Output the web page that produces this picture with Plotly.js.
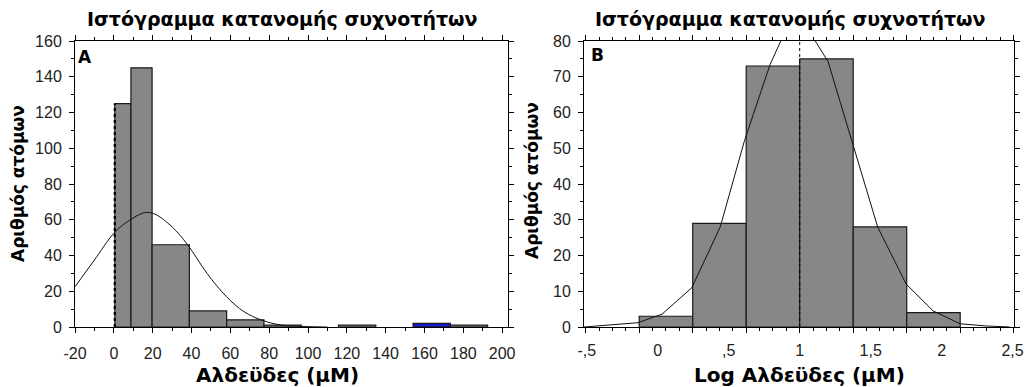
<!DOCTYPE html>
<html><head><meta charset="utf-8">
<script src="https://cdn.plot.ly/plotly-3.0.1.min.js"></script>
<style>html,body{margin:0;padding:0;background:#fff}#chart{width:1029px;height:387px}</style>
</head><body><div id="chart"></div>
<script>
// ---------- Panel A data ----------
const aBinLeft  = [0.5, 8.8, 19.7, 38.9, 58.1, 77.3, 115.7, 154.1, 173.3];
const aBinRight = [8.8, 19.7, 38.9, 58.1, 77.3, 96.5, 134.9, 173.3, 192.5];
const aCounts   = [125, 145, 46, 9, 4, 1, 1, 2, 1];
const aCurveX   = [-20, -10, 0, 7, 16, 21, 30, 38, 48, 58, 67, 76, 86, 98, 110];
const aCurveY   = [22.5, 37.5, 52.4, 58.9, 64, 63.2, 56, 46, 30, 17, 8.6, 3.9, 1.1, 0.3, 0];
const aRefX     = [0.5, 0.5];
const aRefY     = [0, 125];
const aTickVals = [-20, 0, 20, 40, 60, 80, 100, 120, 140, 160, 180, 200];
const aTickText = ['-20', '0', '20', '40', '60', '80', '100', '120', '140', '160', '180', '200'];

// ---------- Panel B data ----------
const bBinLeft  = [-0.131, 0.246, 0.623, 1.0, 1.377, 1.754];
const bBinRight = [0.246, 0.623, 1.0, 1.377, 1.754, 2.131];
const bCounts   = [3, 29, 73, 75, 28, 4];
const bCurveX   = [-0.52, -0.34, -0.14, 0.03, 0.24, 0.44, 0.61, 0.79, 0.87, 0.99, 1.11, 1.2, 1.38, 1.55, 1.75, 1.94, 2.13, 2.31, 2.48];
const bCurveY   = [0, 0.5, 1.2, 3.6, 11, 28, 52, 73.3, 80.3, 85.5, 80, 74.2, 50.3, 27.9, 12, 4.5, 0.9, 0.3, 0];
const bRefX     = [1, 1];
const bRefY     = [0, 80];
const bTickVals = [-0.5, 0, 0.5, 1, 1.5, 2, 2.5];
const bTickText = ['-,5', '0', ',5', '1', '1,5', '2', '2,5'];

// ---------- Texts ----------
const chartTitle = 'Ιστόγραμμα κατανομής συχνοτήτων';
const yTitle = 'Αριθμός ατόμων';
const xTitleA = 'Αλδεϋδες (μΜ)';
const xTitleB = 'Log Αλδεϋδες (μΜ)';

const mid = (l, r) => l.map((v, i) => (v + r[i]) / 2);
const wid = (l, r) => l.map((v, i) => r[i] - v);

const gray = '#878787';
const aColors = aCounts.map((c, i) => i === 7 ? '#1a1acc' : gray);

const traces = [
  {type: 'bar', x: mid(aBinLeft, aBinRight), y: aCounts, width: wid(aBinLeft, aBinRight),
   marker: {color: aColors, line: {color: '#1a1a1a', width: 1.2}},
   xaxis: 'x', yaxis: 'y', hoverinfo: 'x+y', showlegend: false},
  {type: 'scatter', mode: 'lines', x: aCurveX, y: aCurveY, line: {color: '#111', width: 1, shape: 'spline'},
   xaxis: 'x', yaxis: 'y', showlegend: false},
  {type: 'scatter', mode: 'lines', x: aRefX, y: aRefY, line: {color: '#000', width: 2.2, dash: 'dot'},
   xaxis: 'x', yaxis: 'y', showlegend: false},
  {type: 'bar', x: mid(bBinLeft, bBinRight), y: bCounts, width: wid(bBinLeft, bBinRight),
   marker: {color: gray, line: {color: '#1a1a1a', width: 1.2}},
   xaxis: 'x2', yaxis: 'y2', showlegend: false},
  {type: 'scatter', mode: 'lines', x: bCurveX, y: bCurveY, line: {color: '#111', width: 1},
   xaxis: 'x2', yaxis: 'y2', showlegend: false},
  {type: 'scatter', mode: 'lines', x: bRefX, y: bRefY, line: {color: '#000', width: 1, dash: 'dot'},
   xaxis: 'x2', yaxis: 'y2', showlegend: false},
  {type: 'scatter', mode: 'markers', x: [null], y: [null], xaxis: 'x3', yaxis: 'y2', showlegend: false, hoverinfo: 'skip'}
];

const W = 1029, H = 387;
const px = v => v / W, py = v => 1 - v / H;
const tickFont = {family: 'Liberation Sans, Arial, sans-serif', size: 16, color: '#222'};
const boldFont = (s) => ({family: 'DejaVu Sans, sans-serif', size: s, color: '#000', weight: 'bold'});

const axBase = {
  showline: true, linecolor: '#000', linewidth: 1, mirror: 'ticks',
  ticks: 'outside', ticklen: 5, tickcolor: '#000', tickwidth: 1,
  showgrid: false, zeroline: false, tickfont: tickFont, fixedrange: true
};

const yDomain = [py(327), py(41)];

const layout = {
  width: W, height: H,
  margin: {l: 0, r: 0, t: 0, b: 0},
  paper_bgcolor: '#fff', plot_bgcolor: '#fff',
  barmode: 'overlay', bargap: 0,
  showlegend: false,
  xaxis: Object.assign({}, axBase, {
    domain: [px(75), px(508)], range: [-20, 203], anchor: 'y',
    tickmode: 'array', tickvals: aTickVals, ticktext: aTickText, ticklabelstandoff: 7,
    minor: {dtick: 10, tick0: 0, ticks: 'outside', ticklen: 3, tickcolor: '#000'}
  }),
  yaxis: Object.assign({}, axBase, {
    domain: yDomain, range: [0, 160], anchor: 'x',
    tick0: 0, dtick: 20, ticklabelstandoff: 4,
    minor: {dtick: 10, ticks: 'outside', ticklen: 3, tickcolor: '#000'}
  }),
  xaxis2: Object.assign({}, axBase, {
    domain: [px(584), px(1014)], range: [-0.52, 2.51], anchor: 'y2',
    tick0: 1, dtick: 0.377, showticklabels: false,
    minor: {tick0: 1, dtick: 0.09425, ticks: 'outside', ticklen: 3, tickcolor: '#000'}
  }),
  xaxis3: {
    domain: [px(584), px(1014)], range: [-0.52, 2.51], anchor: 'y2', overlaying: 'x2', side: 'bottom',
    showline: false, ticks: '', showgrid: false, zeroline: false, fixedrange: true,
    tickmode: 'array', tickvals: bTickVals, ticktext: bTickText, tickfont: tickFont, ticklabelstandoff: 12
  },
  yaxis2: Object.assign({}, axBase, {
    domain: yDomain, range: [0, 80], anchor: 'x2',
    tick0: 0, dtick: 10, ticklabelstandoff: 4,
    minor: {dtick: 5, ticks: 'outside', ticklen: 3, tickcolor: '#000'}
  }),
  annotations: [
    {text: chartTitle, x: px(282), y: py(19), xref: 'paper', yref: 'paper', xanchor: 'center', yanchor: 'middle', showarrow: false, font: boldFont(19)},
    {text: chartTitle, x: px(790), y: py(19), xref: 'paper', yref: 'paper', xanchor: 'center', yanchor: 'middle', showarrow: false, font: boldFont(19)},
    {text: yTitle, x: px(18), y: py(184), xref: 'paper', yref: 'paper', xanchor: 'center', yanchor: 'middle', textangle: -90, showarrow: false, font: boldFont(17)},
    {text: yTitle, x: px(532), y: py(181), xref: 'paper', yref: 'paper', xanchor: 'center', yanchor: 'middle', textangle: -90, showarrow: false, font: boldFont(17)},
    {text: xTitleA, x: px(277), y: py(375), xref: 'paper', yref: 'paper', xanchor: 'center', yanchor: 'middle', showarrow: false, font: boldFont(20)},
    {text: xTitleB, x: px(799), y: py(375), xref: 'paper', yref: 'paper', xanchor: 'center', yanchor: 'middle', showarrow: false, font: boldFont(20)},
    {text: 'A', x: px(85), y: py(57), xref: 'paper', yref: 'paper', xanchor: 'center', yanchor: 'middle', showarrow: false, font: boldFont(17)},
    {text: 'B', x: px(597), y: py(55), xref: 'paper', yref: 'paper', xanchor: 'center', yanchor: 'middle', showarrow: false, font: boldFont(17)}
  ]
};

Plotly.newPlot('chart', traces, layout, {displayModeBar: false, staticPlot: true});
</script>
</body></html>
